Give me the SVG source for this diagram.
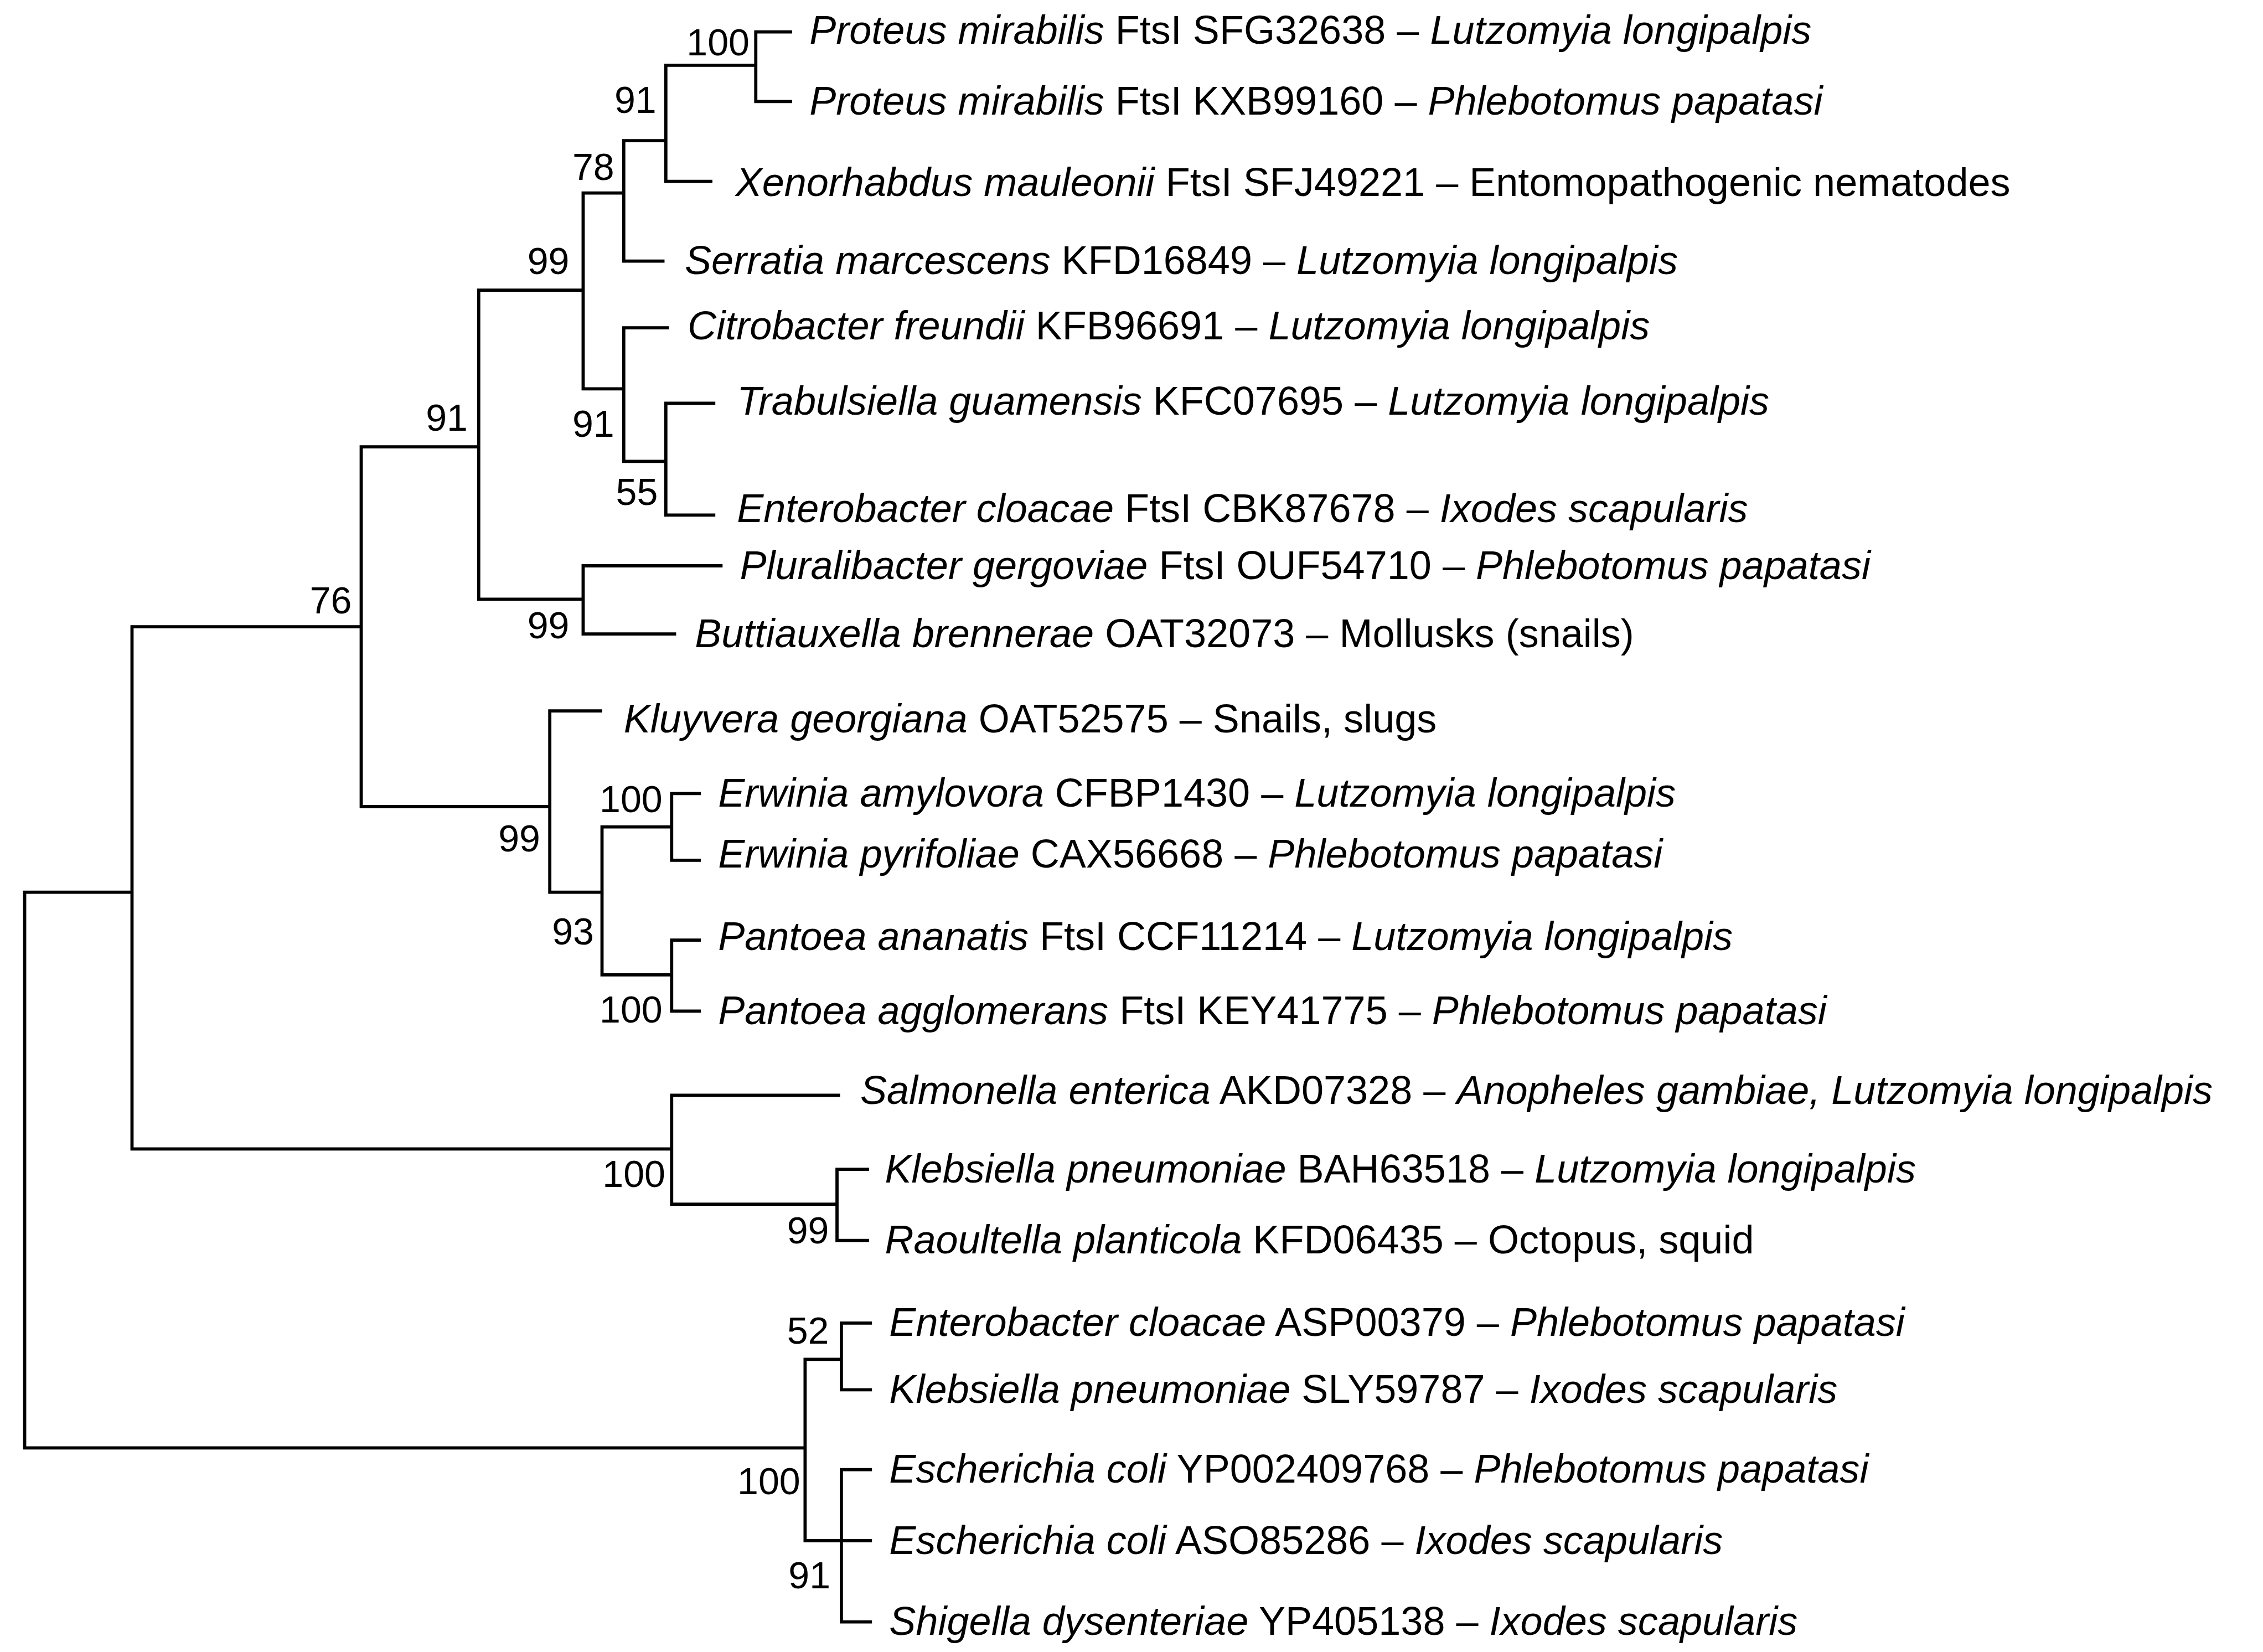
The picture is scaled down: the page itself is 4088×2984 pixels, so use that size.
<svg xmlns="http://www.w3.org/2000/svg" width="4088" height="2984" viewBox="0 0 4088 2984">
<style>
.b{fill:none;stroke:#000;stroke-width:2.2;stroke-linecap:square}
text{font-family:"Liberation Sans",Arial,sans-serif;font-size:27.5px;fill:#000}
.n{text-anchor:middle;font-size:26px}
.i{font-style:italic}
</style>
<rect width="4088" height="2984" fill="#fff"/>
<g transform="scale(2.6205)">
<g id="connectors">
<path class="b" d="M17,615V998M17,615H91M17,998H555
M91,432V792M91,432H249M91,792H463
M463,755V830M463,755H578M463,830H577M577,806V855M577,806H598M577,855H598
M249,308V556M249,308H330M249,556H379
M330,200V413M330,200H402M330,413H402M402,390V437M402,390H497M402,437H465
M402,133V268M402,133H430M430,97V180M430,97H459M459,45V125M459,45H521M521,22V70M521,22H545M521,70H545M459,125H490M430,180H457
M402,268H430M430,226V318M430,226H460M430,318H459M459,278V355M459,278H492M459,355H492
M379,490V615M379,490H414M379,615H415M415,570V672M415,570H463M463,547V593M463,547H482M463,593H482M415,672H463M463,648V697M463,648H482M463,697H482
M555,937V1062M555,937H580M580,912V958M580,912H600M580,958H600M555,1062H580M580,1013V1118M580,1013H600M580,1062H600M580,1118H600"/>
</g>
<g id="support">
<text class="n" x="228" y="423">76</text>
<text class="n" x="437" y="818">100</text>
<text class="n" x="557" y="857">99</text>
<text class="n" x="308" y="297">91</text>
<text class="n" x="358" y="587">99</text>
<text class="n" x="378" y="189">99</text>
<text class="n" x="378" y="440">99</text>
<text class="n" x="409" y="124">78</text>
<text class="n" x="438" y="78">91</text>
<text class="n" x="495" y="38">100</text>
<text class="n" x="409" y="301">91</text>
<text class="n" x="439" y="348">55</text>
<text class="n" x="395" y="651">93</text>
<text class="n" x="435" y="560">100</text>
<text class="n" x="435" y="705">100</text>
<text class="n" x="557" y="926">52</text>
<text class="n" x="530" y="1030">100</text>
<text class="n" x="558" y="1095">91</text>
</g>
<g id="leaves">
<text x="558" y="30"><tspan class="i">Proteus mirabilis</tspan> FtsI SFG32638 – <tspan class="i">Lutzomyia longipalpis</tspan></text>
<text x="558" y="79"><tspan class="i">Proteus mirabilis</tspan> FtsI KXB99160 – <tspan class="i">Phlebotomus papatasi</tspan></text>
<text x="507" y="135"><tspan class="i">Xenorhabdus mauleonii</tspan> FtsI SFJ49221 – Entomopathogenic nematodes</text>
<text x="472" y="189"><tspan class="i">Serratia marcescens</tspan> KFD16849  – <tspan class="i">Lutzomyia longipalpis</tspan></text>
<text x="474" y="234"><tspan class="i">Citrobacter freundii</tspan> KFB96691 – <tspan class="i">Lutzomyia longipalpis</tspan></text>
<text x="508" y="286"><tspan class="i">Trabulsiella guamensis</tspan> KFC07695 – <tspan class="i">Lutzomyia longipalpis</tspan></text>
<text x="508" y="360"><tspan class="i">Enterobacter cloacae</tspan> FtsI CBK87678 – <tspan class="i">Ixodes scapularis</tspan></text>
<text x="510" y="399"><tspan class="i">Pluralibacter gergoviae</tspan> FtsI OUF54710 – <tspan class="i">Phlebotomus papatasi</tspan></text>
<text x="479" y="446"><tspan class="i">Buttiauxella brennerae</tspan> OAT32073 – Mollusks (snails)</text>
<text x="430" y="505"><tspan class="i">Kluyvera georgiana</tspan> OAT52575 – Snails, slugs</text>
<text x="495" y="556"><tspan class="i">Erwinia amylovora</tspan> CFBP1430 – <tspan class="i">Lutzomyia longipalpis</tspan></text>
<text x="495" y="598"><tspan class="i">Erwinia pyrifoliae</tspan> CAX56668 – <tspan class="i">Phlebotomus papatasi</tspan></text>
<text x="495" y="655"><tspan class="i">Pantoea ananatis</tspan> FtsI CCF11214 – <tspan class="i">Lutzomyia longipalpis</tspan></text>
<text x="495" y="706"><tspan class="i">Pantoea agglomerans</tspan> FtsI KEY41775 – <tspan class="i">Phlebotomus papatasi</tspan></text>
<text x="593" y="761"><tspan class="i">Salmonella enterica</tspan> AKD07328 – <tspan class="i">Anopheles gambiae, Lutzomyia longipalpis</tspan></text>
<text x="610" y="815"><tspan class="i">Klebsiella pneumoniae</tspan> BAH63518 – <tspan class="i">Lutzomyia longipalpis</tspan></text>
<text x="610" y="864"><tspan class="i">Raoultella planticola</tspan> KFD06435 – Octopus, squid</text>
<text x="613" y="921"><tspan class="i">Enterobacter cloacae</tspan> ASP00379 – <tspan class="i">Phlebotomus papatasi</tspan></text>
<text x="613" y="967"><tspan class="i">Klebsiella pneumoniae</tspan> SLY59787 – <tspan class="i">Ixodes scapularis</tspan></text>
<text x="613" y="1022"><tspan class="i">Escherichia coli</tspan> YP002409768 – <tspan class="i">Phlebotomus papatasi</tspan></text>
<text x="613" y="1071"><tspan class="i">Escherichia coli</tspan> ASO85286 – <tspan class="i">Ixodes scapularis</tspan></text>
<text x="613" y="1127"><tspan class="i">Shigella dysenteriae</tspan> YP405138 – <tspan class="i">Ixodes scapularis</tspan></text>
</g>
</g>
</svg>
